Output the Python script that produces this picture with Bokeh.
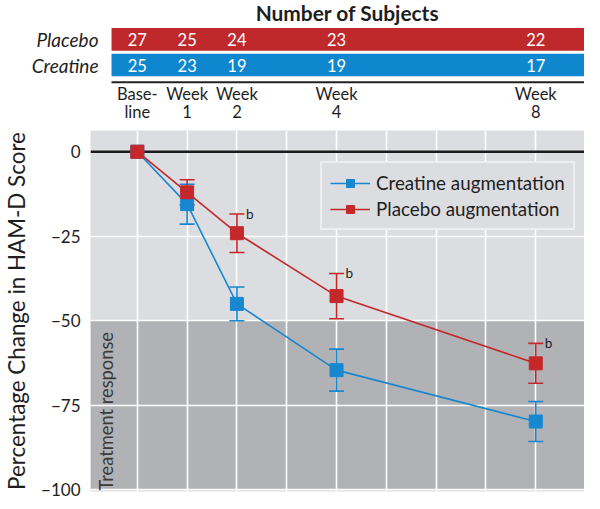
import math
from bokeh.plotting import figure
from bokeh.layouts import column
from bokeh.models import (Range1d, FixedTicker, BoxAnnotation, Span, Label, Whisker,
                          TeeHead, ColumnDataSource, Legend, LegendItem, Grid)
from bokeh.embed import file_html
from bokeh.resources import INLINE
from bokeh.core.properties import value

# ---------------- data ----------------
weeks = [0, 1, 2, 4, 8]
week_line1 = ["Base-", "Week", "Week", "Week", "Week"]
week_line2 = ["line", "1", "2", "4", "8"]
groups = ["Placebo", "Creatine"]
placebo_n = [27, 25, 24, 23, 22]
creatine_n = [25, 23, 19, 19, 17]
creatine_mean = [0, -15.5, -45.0, -64.6, -79.8]
creatine_err = [0, 5.9, 5.0, 6.2, 5.9]
placebo_mean = [0, -12.0, -24.1, -42.7, -62.6]
placebo_err = [0, 3.7, 5.7, 6.7, 5.9]
sig_weeks = [2, 4, 8]
sig_text = ["b", "b", "b"]
y_ticks = [0, -25, -50, -75, -100]
grid_weeks = [0, 1, 2, 3, 4, 5, 6, 7, 8]
response_top, response_bottom = -50, -100

# ---------------- style / layout ----------------
FONT_NAME = "Lato"
FONT = value(FONT_NAME)
RED = "#c4282b"
BLUE = "#1787d0"
RED_BAR = "#c0292c"
BLUE_BAR = "#0f87cf"
BG = "#dcdde0"
DARK = "#b1b2b5"
TXT = "#1e1e1e"

FIG_W, FIG_H = 584, 501
SX, SY = FIG_W / 600, FIG_H / 509


def fx(v):
    return v * SX


def fy(v):
    return v * SY


def fs(px):
    return f"{px * SX:.1f}px"


def ref_week(rx):
    # reference pixel column -> week value (week 0 at px 132, week 8 at px 549)
    return (rx - 132) / ((549 - 132) / 8)


TOP_H = round(fy(124))
BOT_H = FIG_H - TOP_H
LEFT = round(fx(83))
BOTTOM_PAD = 10
X0, X1 = ref_week(83), ref_week(600)
Y0, Y1 = -100.5, 6.28
ROW_Y = [round(fy(40)), round(fy(66.5))]

# ---------------- top table ----------------
xr = Range1d(X0, X1)
top = figure(width=FIG_W, height=TOP_H, x_range=xr,
             y_range=Range1d(TOP_H, 0), output_backend="svg", toolbar_location=None,
             x_axis_location=None, y_axis_location="left",
             min_border_left=LEFT, min_border_right=0, min_border_top=0, min_border_bottom=0,
             outline_line_color=None, background_fill_color="white",
             border_fill_color="white")
top.grid.visible = False

tax = top.yaxis[0]
tax.ticker = FixedTicker(ticks=ROW_Y)
tax.major_label_overrides = {y: g for y, g in zip(ROW_Y, groups)}
tax.axis_line_color = None
tax.major_tick_line_color = None
tax.minor_tick_line_color = None
tax.major_label_standoff = -14
tax.major_label_text_font = FONT_NAME
tax.major_label_text_font_style = "italic"
tax.major_label_text_font_size = fs(19.5)
tax.major_label_text_color = TXT

bar_left = ref_week(105)
for yt, yb, col in [(28, 51, RED_BAR), (54, 77, BLUE_BAR)]:
    top.add_layout(BoxAnnotation(left=bar_left, top=fy(yt), bottom=fy(yb),
                                 fill_color=col, fill_alpha=1, line_color=None, level="underlay"))
top.add_layout(BoxAnnotation(left=bar_left, top=fy(82), bottom=fy(84),
                             fill_color="#222222", fill_alpha=1, line_color=None, level="underlay"))

top.add_layout(Label(x=ref_week(352), y=fy(12), text="Number of Subjects",
                     text_align="center", text_baseline="middle", text_font=FONT_NAME,
                     text_font_style="bold", text_font_size=fs(21.5), text_color=TXT))

top.text(x=weeks, y=[ROW_Y[0]] * len(weeks), text=[str(n) for n in placebo_n],
         text_align="center", text_baseline="middle", text_font=FONT,
         text_font_size=fs(17), text_color="white")
top.text(x=weeks, y=[ROW_Y[1]] * len(weeks), text=[str(n) for n in creatine_n],
         text_align="center", text_baseline="middle", text_font=FONT,
         text_font_size=fs(17), text_color="white")
top.text(x=weeks, y=[fy(95)] * len(weeks), text=week_line1,
         text_align="center", text_baseline="middle", text_font=FONT,
         text_font_size=fs(17), text_color=TXT)
top.text(x=weeks, y=[fy(113)] * len(weeks), text=week_line2,
         text_align="center", text_baseline="middle", text_font=FONT,
         text_font_size=fs(17), text_color=TXT)

# ---------------- main chart ----------------
p = figure(width=FIG_W, height=BOT_H, x_range=xr, y_range=Range1d(Y0, Y1),
           output_backend="svg", toolbar_location=None, x_axis_location=None,
           min_border_left=LEFT, min_border_right=0, min_border_top=round(fy(132)) - TOP_H,
           min_border_bottom=BOTTOM_PAD, background_fill_color=BG, border_fill_color="white",
           outline_line_color=None)

p.center = [r for r in p.center if not isinstance(r, Grid)]

p.add_layout(BoxAnnotation(top=response_top, bottom=response_bottom, fill_color=DARK,
                           fill_alpha=1, line_color=None, level="image"))
p.add_layout(Grid(dimension=0, ticker=FixedTicker(ticks=grid_weeks), grid_line_color="white",
                  grid_line_width=1.6))
p.add_layout(Grid(dimension=1, ticker=FixedTicker(ticks=y_ticks), grid_line_color="white",
                  grid_line_width=1.6))
p.add_layout(Span(location=0, dimension="width", line_color="#1a1a1a", line_width=2.6,
                  level="underlay"))

yax = p.yaxis[0]
yax.ticker = FixedTicker(ticks=y_ticks)
yax.major_label_overrides = {t: ("0" if t == 0 else "\u2212" + str(abs(t))) for t in y_ticks}
yax.axis_line_color = None
yax.major_tick_line_color = None
yax.minor_tick_line_color = None
yax.major_label_standoff = 4
yax.major_label_text_font = FONT_NAME
yax.major_label_text_font_size = fs(17.5)
yax.major_label_text_color = TXT
yax.axis_label = "Percentage Change in HAM-D Score"
yax.axis_label_text_font = FONT_NAME
yax.axis_label_text_font_style = "normal"
yax.axis_label_text_font_size = fs(23)
yax.axis_label_text_color = TXT
yax.axis_label_standoff = 8

# treatment response text
p.add_layout(Label(x=ref_week(99), y=-100.2, text="Treatment response", angle=math.pi / 2,
                   text_align="left", text_baseline="middle", text_font=FONT_NAME,
                   text_font_size=fs(18.8), text_color="#3a3a3a"))

# error bars
for mean, err, col in [(creatine_mean, creatine_err, BLUE), (placebo_mean, placebo_err, RED)]:
    src = ColumnDataSource(dict(base=weeks[1:],
                                upper=[m + e for m, e in zip(mean[1:], err[1:])],
                                lower=[m - e for m, e in zip(mean[1:], err[1:])]))
    p.add_layout(Whisker(source=src, base="base", upper="upper", lower="lower",
                         dimension="height", line_color=col, line_width=1.6,
                         upper_head=TeeHead(size=15, line_color=col, line_width=1.6),
                         lower_head=TeeHead(size=15, line_color=col, line_width=1.6)))

bl = p.line(weeks, creatine_mean, line_color=BLUE, line_width=1.6)
rl = p.line(weeks, placebo_mean, line_color=RED, line_width=1.6)
bs = p.scatter(weeks, creatine_mean, marker="square", size=13, fill_color=BLUE, line_color=BLUE)
rs = p.scatter(weeks, placebo_mean, marker="square", size=13, fill_color=RED, line_color=RED)

# significance marks
sig_y = [m + e for w, m, e in zip(weeks, placebo_mean, placebo_err) if w in sig_weeks]
p.text(x=sig_weeks, y=sig_y, text=sig_text, x_offset=9, text_align="left",
       text_baseline="middle", text_font=FONT, text_font_size=fs(14), text_color=TXT)

legend = Legend(items=[LegendItem(label="Creatine augmentation", renderers=[bl, bs]),
                       LegendItem(label="Placebo augmentation", renderers=[rl, rs])],
                location=(230, 261), background_fill_color=BG,
                background_fill_alpha=1, border_line_color="white", border_line_width=2,
                label_text_font=FONT_NAME, label_text_font_size=fs(19.3), label_text_color=TXT,
                glyph_width=40, glyph_height=20, label_height=20, label_standoff=6,
                padding=8, spacing=3, margin=0)
p.add_layout(legend)

layout = column(top, p, spacing=0)
open("out.html", "w").write(file_html(layout, INLINE))
